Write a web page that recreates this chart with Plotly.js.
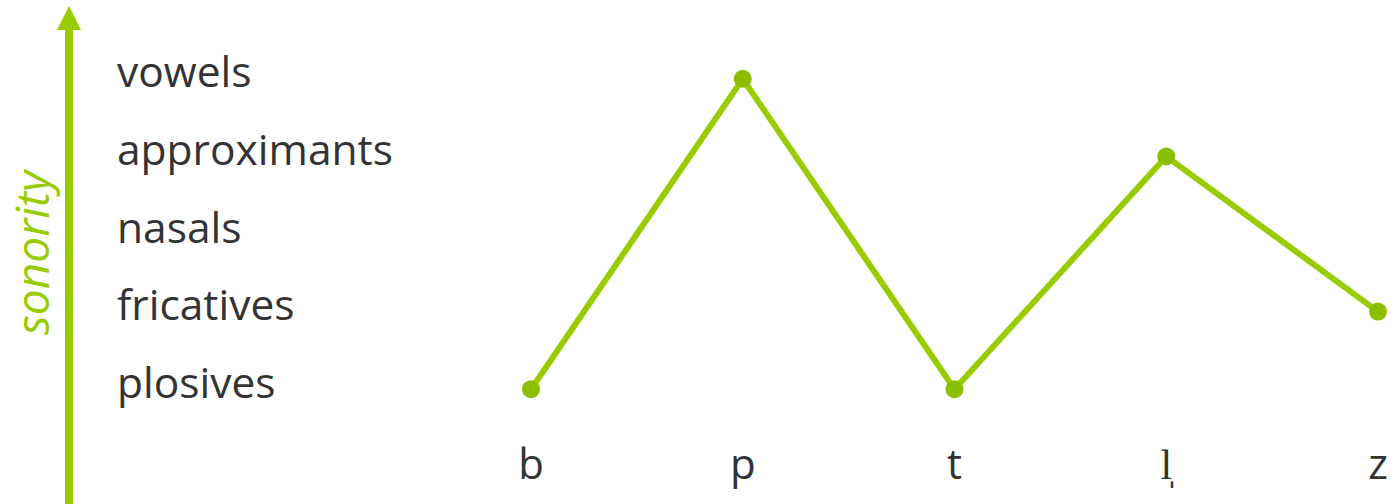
<!DOCTYPE html>
<html>
<head>
<meta charset="utf-8">
<script src="https://cdn.plot.ly/plotly-3.0.1.min.js"></script>
<style>html,body{margin:0;padding:0;background:#fff;}#chart{width:1394px;height:504px;}</style>
</head>
<body>
<div id="chart"></div>
<script>
// Data
const segments = ["b", "p", "t", "l\u0329", "z"];
const sonorityValues = [1, 5, 1, 4, 2];
const sonorityClasses = ["plosives", "fricatives", "nasals", "approximants", "vowels"];
const classLevels = [1, 2, 3, 4, 5];
const axisTitle = "sonority";

// Layout constants
const W = 1394, H = 504;
const M = {l: 531, r: 16, t: 40, b: 76};
const PW = W - M.l - M.r, PH = H - M.t - M.b;
const GREEN = "rgb(153,204,0)";
const MARKER_GREEN = "rgb(140,190,0)";
const TEXT = "#333333";
const px = p => (p - M.l) / PW;
const py = p => (H - M.b - p) / PH;

const trace = {
  x: segments.map((_, i) => i),
  y: sonorityValues,
  type: "scatter",
  mode: "lines+markers",
  line: {color: GREEN, width: 6},
  marker: {color: MARKER_GREEN, size: 18},
  cliponaxis: false,
  hoverinfo: "skip"
};

const annotations = sonorityClasses.map((c, i) => ({
  text: c,
  xref: "paper", yref: "y",
  x: px(115), y: classLevels[i],
  xanchor: "left", yanchor: "middle",
  yshift: 8,
  showarrow: false,
  font: {family: "Open Sans", size: 42.5, color: TEXT}
}));
annotations.push({
  text: "<i>" + axisTitle + "</i>",
  xref: "paper", yref: "paper",
  x: px(31), y: py(252),
  xanchor: "center", yanchor: "middle",
  textangle: -90,
  showarrow: false,
  font: {family: "Open Sans", size: 46, color: GREEN}
});

const shapes = [
  {type: "line", xref: "paper", yref: "paper",
   x0: px(69), x1: px(69), y0: py(504), y1: py(28),
   line: {color: GREEN, width: 8}},
  {type: "path", xref: "paper", yref: "paper",
   path: `M ${px(57)} ${py(30)} L ${px(69)} ${py(6)} L ${px(81)} ${py(30)} Z`,
   fillcolor: GREEN, line: {width: 0}}
];

const layout = {
  width: W, height: H,
  margin: M,
  paper_bgcolor: "#fff", plot_bgcolor: "#fff",
  showlegend: false,
  xaxis: {
    range: [0, segments.length - 1],
    tickvals: segments.map((_, i) => i),
    ticktext: segments,
    showgrid: false, zeroline: false, showline: false, ticks: "",
    ticklabelstandoff: 8,
    tickfont: {family: "Open Sans", size: 42, color: TEXT},
    fixedrange: true
  },
  yaxis: {
    range: [0.5, 5.5],
    showgrid: false, zeroline: false, showline: false, ticks: "",
    showticklabels: false, fixedrange: true
  },
  annotations: annotations,
  shapes: shapes
};

Plotly.newPlot("chart", [trace], layout, {displayModeBar: false, staticPlot: true});
</script>
</body>
</html>
